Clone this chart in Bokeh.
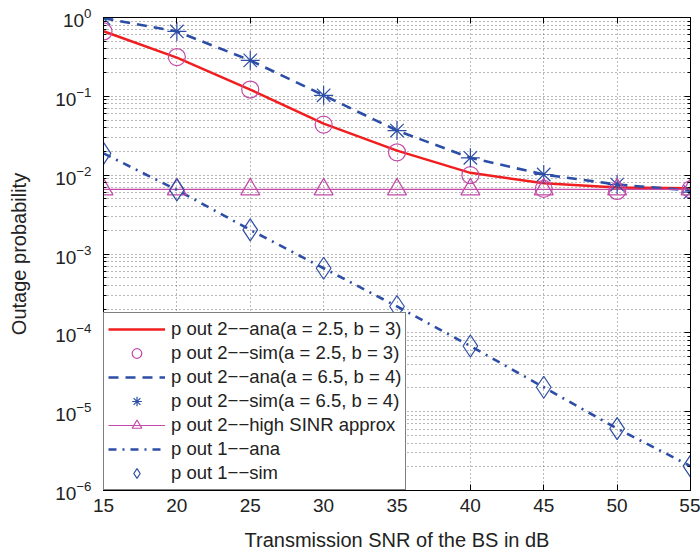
from bokeh.plotting import figure
from bokeh.models import (Range1d, FixedTicker, LogAxis, LinearAxis, Legend, LegendItem,
                          CustomJSTickFormatter)
from bokeh.embed import file_html
from bokeh.resources import INLINE

# ---- data ----
snr_db = [15, 20, 25, 30, 35, 40, 45, 50, 55]
p2_ana_a25 = [0.67, 0.31, 0.122, 0.045, 0.0205, 0.0107, 0.0079, 0.0070, 0.0068]
p2_sim_a25 = [0.665, 0.315, 0.122, 0.0438, 0.0195, 0.0100, 0.0067, 0.0063, 0.0066]
p2_ana_a65 = [0.98, 0.665, 0.286, 0.103, 0.0368, 0.0166, 0.0102, 0.0076, 0.0064]
p2_sim_a65 = [0.98, 0.665, 0.286, 0.103, 0.0368, 0.0166, 0.0102, 0.0076, 0.0061]
p2_high_sinr = [0.0066, 0.0066, 0.0066, 0.0066, 0.0066, 0.0066, 0.0066, 0.0066, 0.0066]
p1_ana = [0.0189, 0.0065, 0.00202, 6.6e-4, 2.16e-4, 6.8e-5, 2.04e-5, 6.1e-6, 2.04e-6]
p1_sim = [0.0189, 0.0065, 0.00202, 6.6e-4, 2.16e-4, 6.8e-5, 2.04e-5, 6.1e-6, 2.04e-6]

x_ticks = [15, 20, 25, 30, 35, 40, 45, 50, 55]
y_ticks = [1e-6, 1e-5, 1e-4, 1e-3, 1e-2, 1e-1, 1]
y_minor = [m * d for d in [1e-6, 1e-5, 1e-4, 1e-3, 1e-2, 1e-1] for m in range(2, 10)]

legend_labels = [
    "p out 2\u2212\u2212ana(a = 2.5, b = 3)",
    "p out 2\u2212\u2212sim(a = 2.5, b = 3)",
    "p out 2\u2212\u2212ana(a = 6.5, b = 4)",
    "p out 2\u2212\u2212sim(a = 6.5, b = 4)",
    "p out 2\u2212\u2212high SINR approx",
    "p out 1\u2212\u2212ana",
    "p out 1\u2212\u2212sim",
]

RED = "#f01e1e"
MAG = "#c24aa8"
BLUE = "#2d4ea6"
FONT = "Liberation Sans"
TXT = "#222222"

p = figure(width=700, height=560,
           x_range=Range1d(15, 55), y_range=Range1d(1e-6, 1),
           y_axis_type="log", output_backend="svg", toolbar_location=None,
           min_border_left=103, min_border_right=10, min_border_top=17, min_border_bottom=70,
           background_fill_color="white", border_fill_color="white")

p.outline_line_color = "black"
p.outline_line_width = 1

# x axis
xa = p.xaxis[0]
xa.ticker = FixedTicker(ticks=x_ticks)
xa.axis_label = "Transmission SNR of the BS in dB"
# y axis
ya = p.yaxis[0]
ya.ticker = FixedTicker(ticks=y_ticks, minor_ticks=y_minor)
ya.axis_label = "Outage probability"

for ax in (xa, ya):
    ax.axis_line_color = "black"
    ax.axis_line_width = 1
    ax.major_tick_in = 6
    ax.major_tick_out = 0
    ax.minor_tick_in = 3
    ax.minor_tick_out = 0
    ax.major_tick_line_color = "black"
    ax.minor_tick_line_color = "black"
    ax.major_label_text_font = FONT
    ax.major_label_text_font_size = "19px"
    ax.major_label_text_color = TXT
    ax.axis_label_text_font = FONT
    ax.axis_label_text_font_size = "20px"
    ax.axis_label_text_font_style = "normal"
    ax.axis_label_text_color = TXT
xa.minor_tick_line_color = None
xa.major_label_standoff = 8
xa.axis_label_standoff = 14
ya.major_label_standoff = 12
ya.axis_label_standoff = 22

# mirrored axes (ticks only)
blank = CustomJSTickFormatter(code="return ''")
ra = LogAxis(ticker=FixedTicker(ticks=y_ticks, minor_ticks=y_minor), formatter=blank,
             major_tick_in=6, major_tick_out=0, minor_tick_in=3, minor_tick_out=0,
             major_label_text_font_size="1px", major_label_standoff=0,
             axis_line_color="black")
ta = LinearAxis(ticker=FixedTicker(ticks=x_ticks), formatter=blank,
                major_tick_in=6, major_tick_out=0, minor_tick_line_color=None,
                major_label_text_font_size="1px", major_label_standoff=0,
                axis_line_color="black")
p.add_layout(ra, "right")
p.add_layout(ta, "above")

# grids
p.xgrid.grid_line_color = "#707070"
p.xgrid.grid_line_dash = "1 3"
p.ygrid.grid_line_color = "#707070"
p.ygrid.grid_line_dash = "1 3"
p.ygrid.minor_grid_line_color = "#707070"
p.ygrid.minor_grid_line_dash = "1 3"

# series
r1 = p.line(snr_db, p2_ana_a25, line_color=RED, line_width=2.5)
r3 = p.line(snr_db, p2_ana_a65, line_color=BLUE, line_width=2.6, line_dash="10 7")
r5a = p.line(snr_db, p2_high_sinr, line_color=MAG, line_width=1.2)
r6 = p.line(snr_db, p1_ana, line_color=BLUE, line_width=2.6, line_dash="8 6 2 6")
r2 = p.scatter(snr_db, p2_sim_a25, marker="circle", size=17, fill_color=None,
               line_color=MAG, line_width=1.2)
r4 = p.scatter(snr_db, p2_sim_a65, marker="asterisk", size=19, line_color=BLUE, line_width=1.2)
r5b = p.scatter(snr_db, p2_high_sinr, marker="triangle", size=19, fill_color=None,
                line_color=MAG, line_width=1.2)
r7 = p.scatter(snr_db, p1_sim, marker="diamond", size=22, fill_color=None,
               line_color=BLUE, line_width=1.2)

items = [
    LegendItem(label=legend_labels[0], renderers=[r1]),
    LegendItem(label=legend_labels[1], renderers=[r2]),
    LegendItem(label=legend_labels[2], renderers=[r3]),
    LegendItem(label=legend_labels[3], renderers=[r4]),
    LegendItem(label=legend_labels[4], renderers=[r5a, r5b]),
    LegendItem(label=legend_labels[5], renderers=[r6]),
    LegendItem(label=legend_labels[6], renderers=[r7]),
]
legend = Legend(items=items, location="bottom_left", margin=0, padding=4, spacing=0,
                glyph_width=57, glyph_height=24, label_height=24, label_standoff=6,
                label_text_font=FONT, label_text_font_size="18.5px", label_text_color=TXT,
                border_line_color="black", border_line_width=1.5,
                background_fill_color="white", background_fill_alpha=1)
p.add_layout(legend)

open("out.html", "w").write(file_html(p, INLINE))
